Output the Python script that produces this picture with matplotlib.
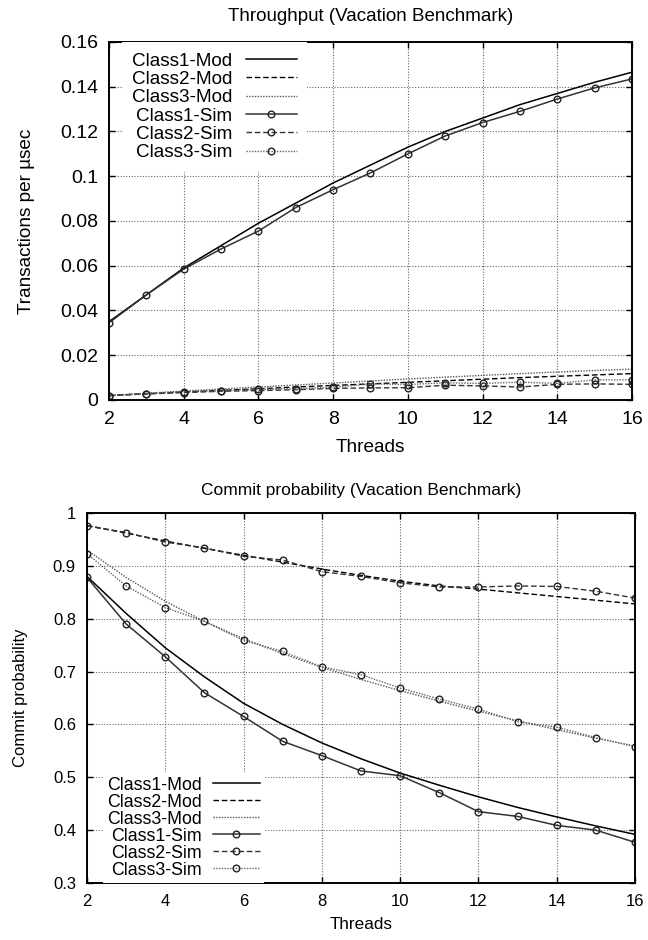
# Throughput y probabilidad de commit del benchmark Vacation:
# modelo analítico (Mod) frente a simulación (Sim) para tres clases
# de transacciones.
import matplotlib
matplotlib.use("Agg")
import matplotlib.pyplot as plt

plt.rcParams['font.family'] = ['Liberation Sans', 'DejaVu Sans']

# ----------------------- Datos -----------------------
HILOS = list(range(2, 17))

# throughput (transacciones por µsec)
THR_C1_MOD = [0.0350, 0.0470, 0.0590, 0.0690, 0.0790, 0.0880, 0.0970, 0.1050,
              0.1130, 0.1200, 0.1260, 0.1320, 0.1370, 0.1420, 0.1465]
THR_C2_MOD = [0.0020, 0.0028, 0.0036, 0.0043, 0.0050, 0.0058, 0.0065, 0.0072,
              0.0079, 0.0086, 0.0093, 0.0100, 0.0106, 0.0112, 0.0118]
THR_C3_MOD = [0.0020, 0.0030, 0.0040, 0.0049, 0.0058, 0.0067, 0.0076, 0.0085,
              0.0094, 0.0102, 0.0110, 0.0118, 0.0125, 0.0132, 0.0138]
THR_C1_SIM = [0.0345, 0.0470, 0.0585, 0.0675, 0.0755, 0.0860, 0.0940, 0.1015,
              0.1100, 0.1180, 0.1240, 0.1290, 0.1345, 0.1395, 0.1435]
THR_C2_SIM = [0.0020, 0.0027, 0.0033, 0.0039, 0.0042, 0.0046, 0.0052, 0.0054,
              0.0055, 0.0066, 0.0063, 0.0058, 0.0070, 0.0072, 0.0070]
THR_C3_SIM = [0.0020, 0.0029, 0.0037, 0.0041, 0.0048, 0.0050, 0.0057, 0.0072,
              0.0069, 0.0077, 0.0074, 0.0080, 0.0074, 0.0090, 0.0090]

# probabilidad de commit
CP_C1_MOD = [0.880, 0.810, 0.745, 0.690, 0.640, 0.600, 0.565, 0.535,
             0.508, 0.485, 0.463, 0.443, 0.425, 0.408, 0.392]
CP_C2_MOD = [0.976, 0.962, 0.947, 0.933, 0.920, 0.907, 0.894, 0.882,
             0.871, 0.862, 0.856, 0.849, 0.842, 0.835, 0.828]
CP_C3_MOD = [0.930, 0.878, 0.833, 0.795, 0.762, 0.734, 0.708, 0.685,
             0.664, 0.644, 0.625, 0.607, 0.590, 0.574, 0.559]
CP_C1_SIM = [0.878, 0.790, 0.728, 0.660, 0.615, 0.568, 0.541, 0.512,
             0.503, 0.471, 0.435, 0.426, 0.409, 0.400, 0.377]
CP_C2_SIM = [0.976, 0.963, 0.945, 0.934, 0.918, 0.911, 0.889, 0.880,
             0.868, 0.860, 0.860, 0.862, 0.861, 0.852, 0.839]
CP_C3_SIM = [0.923, 0.862, 0.821, 0.795, 0.759, 0.738, 0.709, 0.694,
             0.669, 0.648, 0.629, 0.605, 0.595, 0.575, 0.558]

ETIQUETAS = ["Class1-Mod", "Class2-Mod", "Class3-Mod",
             "Class1-Sim", "Class2-Sim", "Class3-Sim"]

# estilo de cada serie (mismo orden que ETIQUETAS)
ESTILOS = [
    dict(color="black", linestyle="-", linewidth=1.1),
    dict(color="black", linestyle=(0, (4, 2)), linewidth=1.0),
    dict(color="#555555", linestyle=(0, (1, 1)), linewidth=1.0),
    dict(color="#333333", linestyle="-", linewidth=1.1, marker="o"),
    dict(color="#333333", linestyle=(0, (4, 2)), linewidth=1.0, marker="o"),
    dict(color="#666666", linestyle=(0, (1, 1)), linewidth=1.0, marker="o"),
]


def dibujar(ax, series, fs):
    for vals, etiqueta, estilo in zip(series, ETIQUETAS, ESTILOS):
        ax.plot(HILOS, vals, label=etiqueta, markersize=4.8, markerfacecolor="none",
                markeredgewidth=1.0, markeredgecolor="#222222", **estilo)
    ax.set_xlim(2, 16)
    ax.set_xticks(range(2, 17, 2))
    ax.grid(True, linestyle=(0, (1, 1.5)), color="#666666", linewidth=0.8)
    ax.tick_params(direction="in", top=True, right=True, length=4, width=1,
                   labelsize=fs, pad=8)
    for s in ax.spines.values():
        s.set_linewidth(1.4)


fig = plt.figure(figsize=(6.48, 9.4), dpi=100)

# ---------------- Throughput ----------------
ax1 = fig.add_axes([109 / 648, 1 - 400 / 940, 523 / 648, 358 / 940])
dibujar(ax1, [THR_C1_MOD, THR_C2_MOD, THR_C3_MOD, THR_C1_SIM, THR_C2_SIM, THR_C3_SIM], 14)
ax1.set_ylim(0, 0.16)
ax1.set_yticks([0, 0.02, 0.04, 0.06, 0.08, 0.1, 0.12, 0.14, 0.16])
ax1.set_yticklabels(["0", "0.02", "0.04", "0.06", "0.08", "0.1", "0.12", "0.14", "0.16"])
ax1.set_title("Throughput (Vacation Benchmark)", fontsize=13.5, pad=15)
ax1.set_xlabel("Threads", fontsize=13.7, labelpad=8)
ax1.set_ylabel("Transactions per µsec", fontsize=13.7, labelpad=18)
leg1 = ax1.legend(loc="upper right", bbox_to_anchor=((307 - 109) / 523, 1.0),
                  borderaxespad=0, borderpad=0.55, markerfirst=False, fontsize=13.6,
                  handlelength=2.7, handletextpad=0.7, labelspacing=0.06,
                  frameon=True, fancybox=False, framealpha=1, edgecolor="none")

# ---------------- Probabilidad de commit ----------------
ax2 = fig.add_axes([87 / 648, 1 - 883 / 940, 548 / 648, 370 / 940])
dibujar(ax2, [CP_C1_MOD, CP_C2_MOD, CP_C3_MOD, CP_C1_SIM, CP_C2_SIM, CP_C3_SIM], 12)
ax2.set_ylim(0.3, 1.0)
ax2.set_yticks([0.3, 0.4, 0.5, 0.6, 0.7, 0.8, 0.9, 1.0])
ax2.set_yticklabels(["0.3", "0.4", "0.5", "0.6", "0.7", "0.8", "0.9", "1"])
ax2.set_title("Commit probability (Vacation Benchmark)", fontsize=12.5, pad=13)
ax2.set_xlabel("Threads", fontsize=12.3, labelpad=6)
ax2.set_ylabel("Commit probability", fontsize=12, labelpad=18)
leg2 = ax2.legend(loc="lower right", bbox_to_anchor=((264 - 87) / 548, 0.0),
                  borderaxespad=0, borderpad=0.25, markerfirst=False, fontsize=12.8,
                  handlelength=2.6, handletextpad=0.65, labelspacing=0.0,
                  frameon=True, fancybox=False, framealpha=1, edgecolor="none")

fig.savefig("out.png", dpi=100)
plt.close(fig)
